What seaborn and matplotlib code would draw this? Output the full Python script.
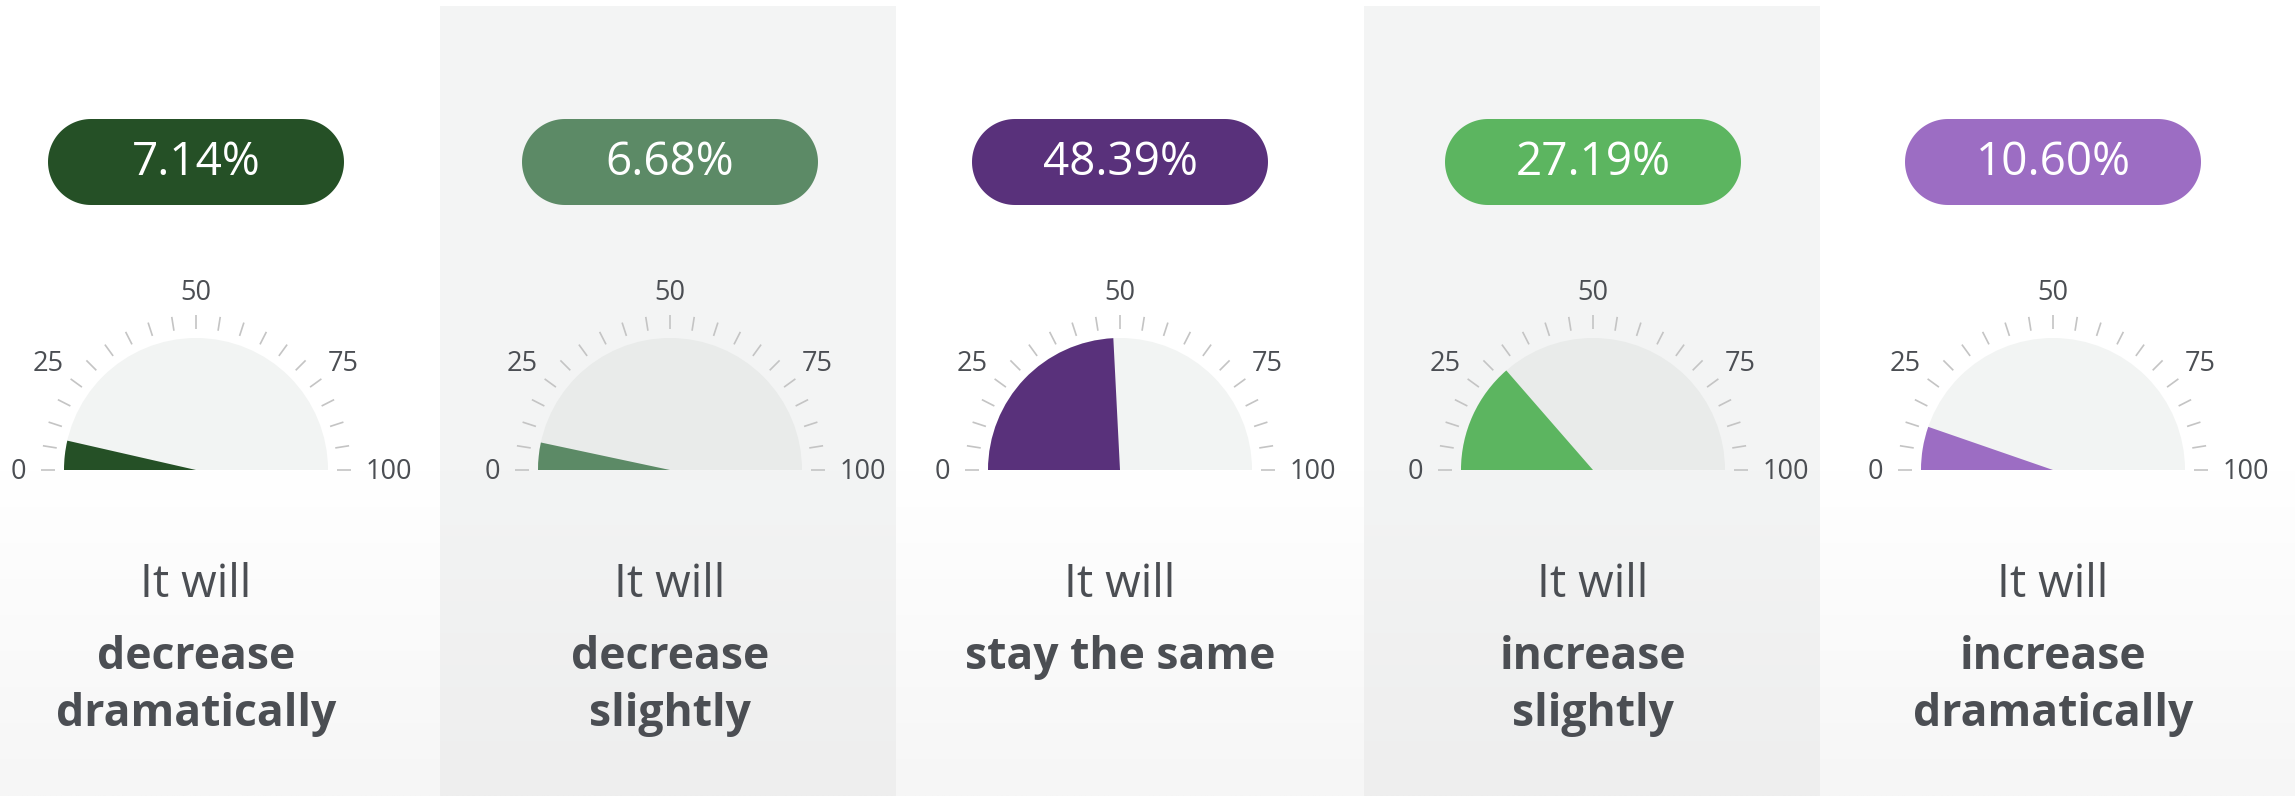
import numpy as np
import matplotlib
matplotlib.use("Agg")
import matplotlib.pyplot as plt
from matplotlib.patches import Wedge, Rectangle
import seaborn as sns

# --- data -------------------------------------------------------------
outcomes_top = ["decrease", "decrease", "stay the same", "increase", "increase"]
outcomes_bottom = ["dramatically", "slightly", "", "slightly", "dramatically"]
shares = [7.14, 6.68, 48.39, 27.19, 10.60]
scale_labels = [0, 25, 50, 75, 100]
minor_steps = list(range(0, 101, 5))
lead_in = "It will"

# --- style ------------------------------------------------------------
sns.set_theme(style="white")
plt.rcParams["font.family"] = ["Open Sans", "DejaVu Sans"]

palette = sns.color_palette(["#255026", "#5c8a66", "#59317b", "#5cb560", "#9c6dc3"])
TEXT = "#4b4e53"
TICK = "#c4c4c4"
W, H = 2295, 796

fig = plt.figure(figsize=(W / 100, H / 100), dpi=100)
ax = fig.add_axes([0, 0, 1, 1])
ax.set_xlim(0, W)
ax.set_ylim(0, H)
ax.set_aspect("equal")
ax.axis("off")

edges = [0, 440, 896, 1364, 1820, W]
centers = [196, 670, 1120, 1593, 2053]


def Y(y_top):
    """convert a top-down pixel row into axis units"""
    return H - y_top


def pill(cx, cy, width, height, color):
    """capsule shape: a rectangle closed by two half circles"""
    r = height / 2
    a_right = np.linspace(-np.pi / 2, np.pi / 2, 60)
    a_left = np.linspace(np.pi / 2, 3 * np.pi / 2, 60)
    xs = np.concatenate([cx + width / 2 - r + r * np.cos(a_right),
                         cx - width / 2 + r + r * np.cos(a_left)])
    ys = np.concatenate([cy + r * np.sin(a_right), cy + r * np.sin(a_left)])
    ax.fill(xs, ys, color=color, lw=0, zorder=2)


# panel backgrounds with a soft vertical fade toward the bottom
for i in range(5):
    shaded = i % 2 == 1
    top_col = np.array([0xf3, 0xf4, 0xf4]) / 255 if shaded else np.array([1.0, 1.0, 1.0])
    bot_col = np.array([0xee, 0xee, 0xee]) / 255 if shaded else np.array([0xf6, 0xf6, 0xf6]) / 255
    y0 = 6 if shaded else 0
    if shaded:
        ax.add_patch(Rectangle((edges[i], Y(470)), edges[i + 1] - edges[i], 470 - y0,
                               facecolor=top_col, edgecolor="none", zorder=0))
    t = np.linspace(0, 1, 200)[:, None]
    grad = top_col[None, None, :] * (1 - t[..., None]) + bot_col[None, None, :] * t[..., None]
    grad = np.repeat(grad, 2, axis=1)
    ax.imshow(grad, extent=(edges[i], edges[i + 1], Y(H), Y(470)),
              aspect="auto", zorder=0, interpolation="bilinear")

ax.set_xlim(0, W)
ax.set_ylim(0, H)

R = 132
for i, (cx, v, col) in enumerate(zip(centers, shares, palette)):
    shaded = i % 2 == 1
    cy = Y(470)

    # value pill
    pill_y = Y(162)
    pill(cx, pill_y, 296, 86, col)
    ax.text(cx, pill_y - 1, f"{v:.2f}%", color="white", fontsize=33,
            fontweight="normal", ha="center", va="center", zorder=3)

    # gauge track and filled arc
    ax.add_patch(Wedge((cx, cy), R, 0, 180,
                       facecolor="#e9ebea" if shaded else "#f2f4f3",
                       edgecolor="none", zorder=2))
    ax.add_patch(Wedge((cx, cy), R, 180 - v * 1.8, 180,
                       facecolor=col, edgecolor="none", zorder=3))

    # scale ticks
    for s in minor_steps:
        a = np.radians(180 - s * 1.8)
        ax.plot([cx + 141 * np.cos(a), cx + 155 * np.cos(a)],
                [cy + 141 * np.sin(a), cy + 155 * np.sin(a)],
                color=TICK, lw=1.2, solid_capstyle="butt", zorder=2)

    # scale labels
    for s in scale_labels:
        a = np.radians(180 - s * 1.8)
        dx, dy = 170 * np.cos(a), 170 * np.sin(a)
        if s == 50:
            ha, va = "center", "bottom"
            dy -= 7
        elif s < 50:
            ha, va = "right", "center"
        else:
            ha, va = "left", "center"
        if s in (25, 75):
            dx += -12 if s == 25 else 12
            dy -= 14
        if s in (0, 100):
            dy -= 2
        ax.text(cx + dx, cy + dy, str(s), color=TEXT, fontsize=19.5,
                ha=ha, va=va, zorder=3)

    # captions
    ax.text(cx, Y(597), lead_in, color=TEXT, fontsize=33, fontweight="normal",
            ha="center", va="baseline", zorder=3)
    ax.text(cx, Y(669), outcomes_top[i], color=TEXT, fontsize=32, fontweight="bold",
            ha="center", va="baseline", zorder=3)
    if outcomes_bottom[i]:
        ax.text(cx, Y(726), outcomes_bottom[i], color=TEXT, fontsize=32,
                fontweight="bold", ha="center", va="baseline", zorder=3)

fig.savefig("out.png", dpi=100)
